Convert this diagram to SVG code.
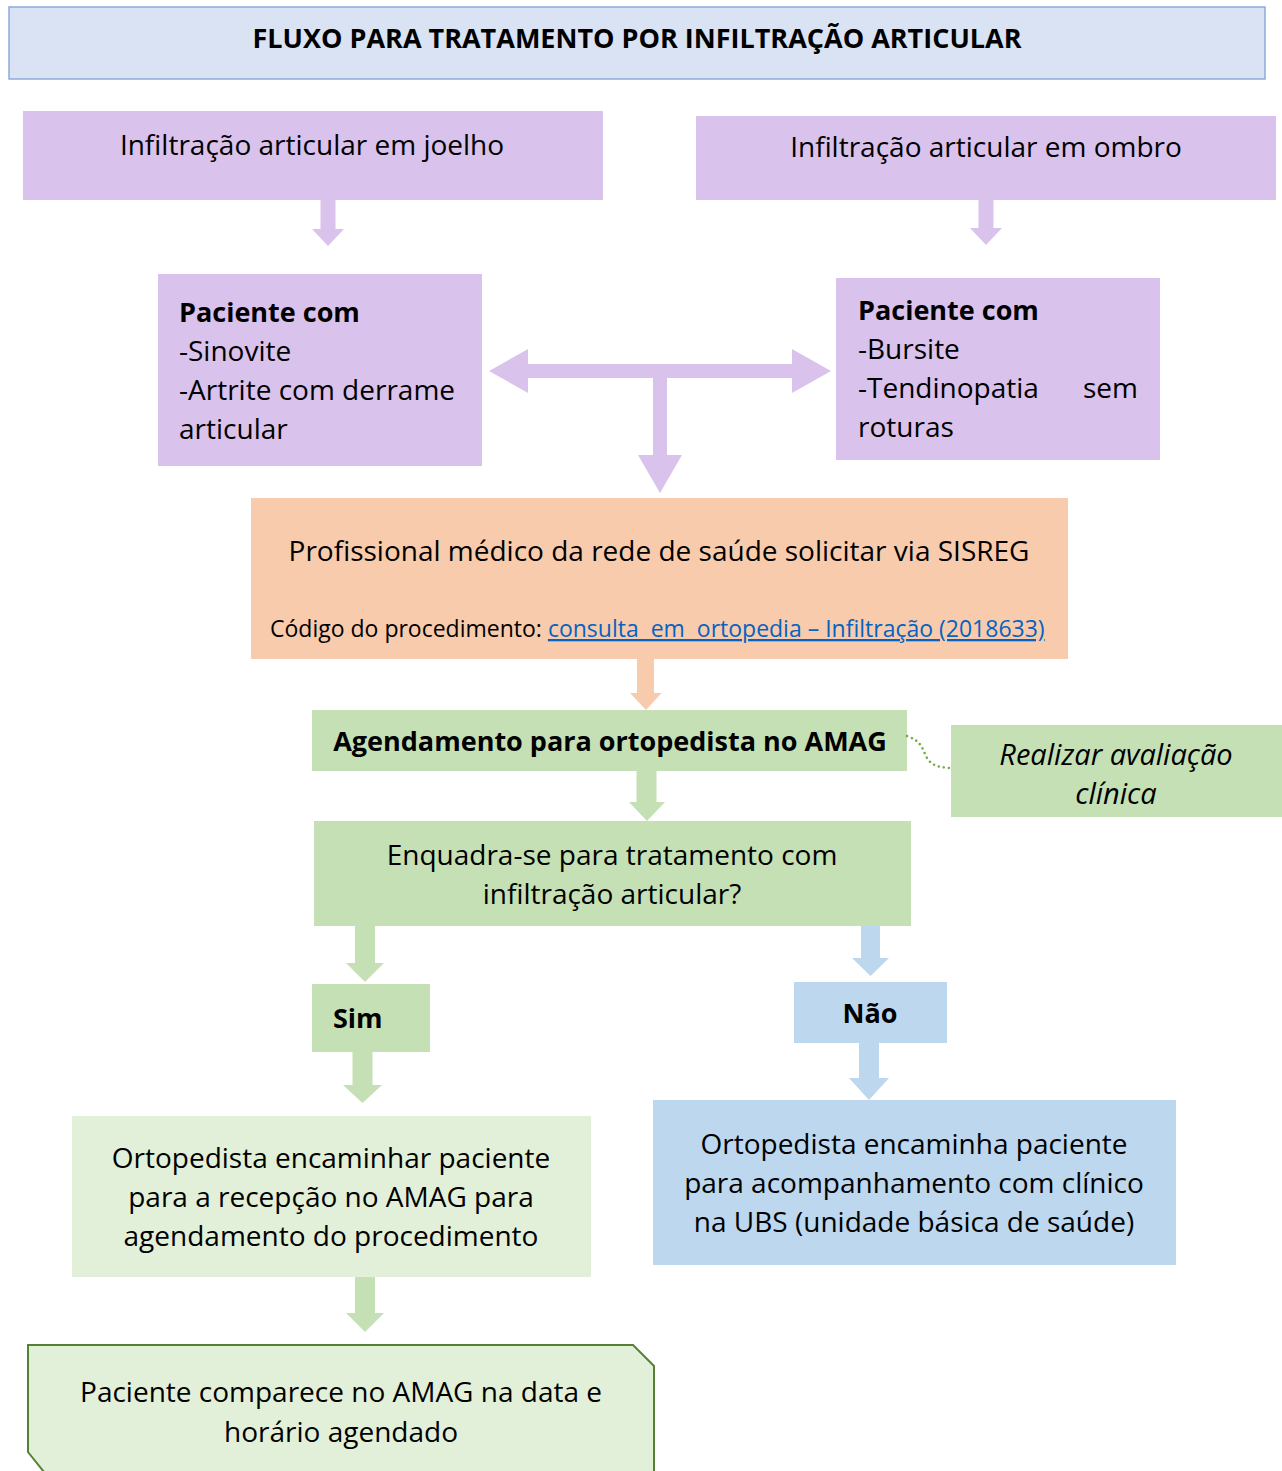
<svg xmlns="http://www.w3.org/2000/svg" width="1282" height="1471" viewBox="0 0 1282 1471">
<style>
text{font-family:"Open Sans","Noto Sans","Liberation Sans",sans-serif;fill:#000;}
.t{font-size:28px;}
.c{text-anchor:middle;}
.b{font-weight:bold;font-size:27px;}
.lav{fill:#d9c2eb;}
.org{fill:#f8cbad;}
.grn{fill:#c5e0b4;}
.lgr{fill:#e2f0d9;}
.blu{fill:#bdd7ee;}
</style>
<rect width="1282" height="1471" fill="#fff"/>

<g id="title">
<rect x="9" y="7" width="1256" height="72" fill="#dae3f3" stroke="#8eaadb" stroke-width="1.5"/>
<text x="637" y="48" class="c" font-weight="bold" font-size="27">FLUXO PARA TRATAMENTO POR INFILTRAÇÃO ARTICULAR</text>
</g>

<g id="joelho">
<rect x="23" y="111" width="580" height="89" class="lav"/>
<text x="312" y="155" class="t c">Infiltração articular em joelho</text>
</g>

<g id="ombro">
<rect x="696" y="116" width="580" height="84" class="lav"/>
<text x="986" y="157" class="t c">Infiltração articular em ombro</text>
</g>

<g id="paciente-joelho">
<rect x="158" y="274" width="324" height="192" class="lav"/>
<text x="179" y="322" class="t b">Paciente com</text>
<text x="179" y="361" class="t">-Sinovite</text>
<text x="179" y="400" class="t">-Artrite com derrame</text>
<text x="179" y="439" class="t">articular</text>
</g>

<g id="paciente-ombro">
<rect x="836" y="278" width="324" height="182" class="lav"/>
<text x="858" y="320" class="t b">Paciente com</text>
<text x="858" y="359" class="t">-Bursite</text>
<text x="858" y="398" class="t">-Tendinopatia</text>
<text x="1138" y="398" class="t" text-anchor="end">sem</text>
<text x="858" y="437" class="t">roturas</text>
</g>

<g id="solicitar">
<rect x="251" y="498" width="817" height="161" class="org"/>
<text x="659" y="561" class="t c">Profissional médico da rede de saúde solicitar via SISREG</text>
<text x="270" y="637" font-size="23">Código do procedimento: <tspan fill="#0563c1" text-decoration="underline">consulta&#160; em&#160; ortopedia – Infiltração (2018633)</tspan></text>
</g>

<g id="agendamento">
<rect x="312" y="710" width="595" height="61" class="grn"/>
<text x="610" y="751" class="t c b">Agendamento para ortopedista no AMAG</text>
</g>

<g id="avaliacao">
<rect x="951" y="725" width="331" height="92" class="grn"/>
<text x="1116" y="765" class="c" font-size="29" font-style="italic">Realizar avaliação</text>
<text x="1116" y="804" class="c" font-size="29" font-style="italic">clínica</text>
</g>

<g id="enquadra">
<rect x="314" y="821" width="597" height="105" class="grn"/>
<text x="612" y="865" class="t c">Enquadra-se para tratamento com</text>
<text x="612" y="904" class="t c">infiltração articular?</text>
</g>

<g id="sim">
<rect x="312" y="984" width="118" height="68" class="grn"/>
<text x="333" y="1028" class="t b">Sim</text>
</g>

<g id="nao">
<rect x="794" y="982" width="153" height="61" class="blu"/>
<text x="870" y="1023" class="t c b">Não</text>
</g>

<g id="encaminhar">
<rect x="72" y="1116" width="519" height="161" class="lgr"/>
<text x="331" y="1168" class="t c">Ortopedista encaminhar paciente</text>
<text x="331" y="1207" class="t c">para a recepção no AMAG para</text>
<text x="331" y="1246" class="t c">agendamento do procedimento</text>
</g>

<g id="ubs">
<rect x="653" y="1100" width="523" height="165" class="blu"/>
<text x="914" y="1154" class="t c">Ortopedista encaminha paciente</text>
<text x="914" y="1193" class="t c">para acompanhamento com clínico</text>
<text x="914" y="1232" class="t c">na UBS (unidade básica de saúde)</text>
</g>

<g id="comparece">
<path d="M28,1345 H633 L654,1366 V1472 H44 L28,1452 Z" fill="#e2f0d9" stroke="#548235" stroke-width="2"/>
<text x="341" y="1402" class="t c">Paciente comparece no AMAG na data e</text>
<text x="341" y="1442" class="t c">horário agendado</text>
</g>

<g id="connectors">
<path d="M320.5,200 H335.5 V229 H344 L328,246 L312,229 H320.5 Z" class="lav"/>
<path d="M978.5,200 H993.5 V228 H1002 L986,245 L970,228 H978.5 Z" class="lav"/>
<path d="M489,371 L528,349 V364 H792 V349 L831,371 L792,393 V378 H667 V455 H682 L660,493 L638,455 H653 V378 H528 V393 Z" class="lav"/>
<path d="M637,659 H654 V693 H661.5 L646,710 L630,693 H637 Z" class="org"/>
<path d="M636.5,771 H656.5 V802 H665 L647,821 L629,802 H636.5 Z" class="grn"/>
<path d="M355,926 H375 V963 H384 L365,982 L346,963 H355 Z" class="grn"/>
<path d="M861,926 H880 V958 H889 L870.5,976 L852,958 H861 Z" class="blu"/>
<path d="M352.5,1052 H372.5 V1085 H382 L362.5,1103 L343,1085 H352.5 Z" class="grn"/>
<path d="M859,1043 H879 V1078 H889 L869,1100 L849,1078 H859 Z" class="blu"/>
<path d="M355,1277 H375 V1313 H384 L365,1332 L346,1313 H355 Z" class="grn"/>
<path d="M907,736 C918,740 921,744 925,754 C930,766 938,767 950,768" fill="none" stroke="#70ad47" stroke-width="2.5" stroke-dasharray="0.1 5" stroke-linecap="round"/>
</g>
</svg>
